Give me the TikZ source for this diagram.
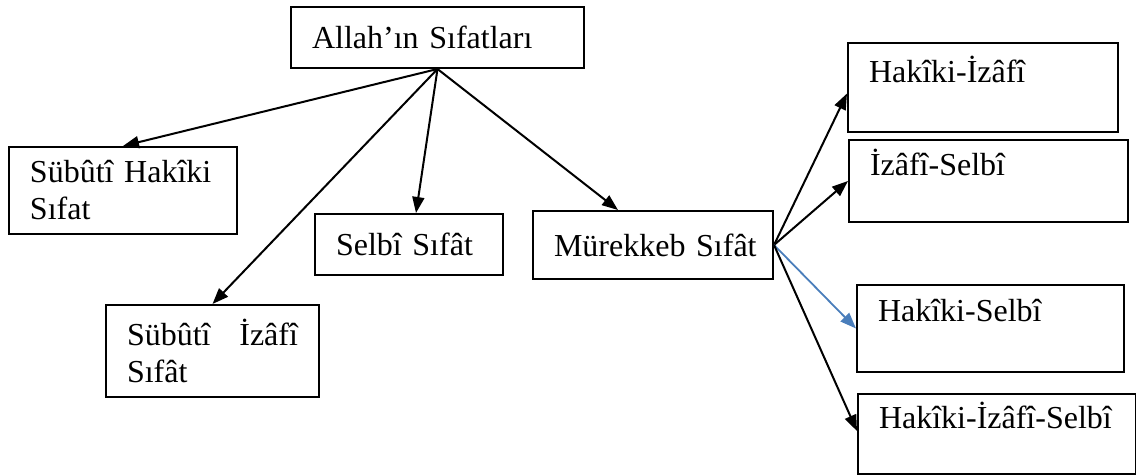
\documentclass[tikz,border=0pt]{standalone}
\usepackage{fontspec}
\setmainfont{Liberation Serif}
\usepackage{tikz}
\usetikzlibrary{arrows.meta,positioning}
\definecolor{wordblue}{HTML}{4A7EBB}

\begin{document}
\begin{tikzpicture}[x=0.5pt,y=-0.5pt,
box/.style={draw,line width=1pt,anchor=north west,align=left,inner xsep=10.5pt,inner ysep=0pt,font=\fontsize{16}{18.5}\selectfont},
arr/.style={-{Triangle[length=8pt,width=6pt]},line width=1pt}]
\useasboundingbox (0,0) rectangle (1136,475);
% left part
\node[box,text width=125.5pt,minimum height=30.5pt] (sifat) at (290,6) {Allah’ın Sıfatları};
\node[box,text width=93pt,minimum height=43.5pt] (subhak) at (8,146) {Sübûtî Hakîki\\Sıfat};
\node[box,text width=85.5pt,minimum height=46pt] (subiza) at (105,304) {Sübûtî\hfill İzâfî\\Sıfât};
\node[box,text width=73pt,minimum height=30.5pt] (selbi) at (314,213) {Selbî Sıfât};
\node[box,text width=99pt,minimum height=34pt] (murek) at (532,210) {\mbox{Mürekkeb Sıfât}};
% right column
\node[box,text width=114pt,minimum height=44.5pt] (hakiza) at (847,42) {Hakîki-İzâfî\\\mbox{}};
\node[box,text width=118.5pt,minimum height=41pt] (izasel) at (848,139) {İzâfî-Selbî\\\mbox{}};
\node[box,text width=112.5pt,minimum height=43.5pt] (haksel) at (856,284) {Hakîki-Selbî\\\mbox{}};
\node[box,text width=118pt,minimum height=40pt] (hakizasel) at (857,393) {Hakîki-İzâfî-Selbî\\\mbox{}};
\draw[arr] (sifat.south) -- (subhak.north);
\draw[arr] (sifat.south) -- (subiza.north);
\draw[arr] (sifat.south) -- ([xshift=3.5pt]selbi.north);
\draw[arr] (sifat.south) -- ([xshift=-17.5pt]murek.north);
\draw[arr] (murek.east) -- ([yshift=-3pt]hakiza.west);
\draw[arr] (murek.east) -- (izasel.west);
\draw[arr,wordblue,line width=0.9pt] (murek.east) -- (haksel.west);
\draw[arr] (murek.east) -- ([yshift=1.5pt]hakizasel.west);
\end{tikzpicture}
\end{document}
